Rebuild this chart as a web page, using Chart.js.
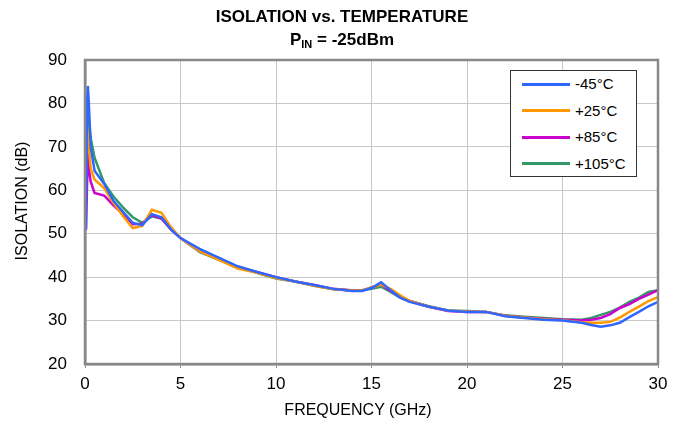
<!DOCTYPE html>
<html>
<head>
<meta charset="utf-8">
<script src="https://cdn.jsdelivr.net/npm/chart.js@4.4.1/dist/chart.umd.min.js"></script>
<style>
  body { margin: 0; background: #fff; font-family: "Liberation Sans", Arial, sans-serif; }
  #wrap { position: relative; width: 684px; height: 426px; }
  #titel { position: absolute; left: 0; top: 5px; width: 684px; text-align: center; font-weight: bold; font-size: 17px; line-height: 23px; color: #000; }
  #titel sub { font-size: 11px; vertical-align: -3px; line-height: 0; }
  #ejeX { position: absolute; left: 208px; top: 400px; width: 300px; text-align: center; font-size: 16px; line-height: 20px; color: #000; }
  #ejeY { position: absolute; left: -128px; top: 191px; width: 300px; text-align: center; font-size: 16px; line-height: 20px; color: #000; transform: rotate(-90deg); }
  #leyenda { position: absolute; left: 510px; top: 70px; width: 125px; height: 105px; border: 1px solid #333; background: #fff; }
  .item { position: absolute; left: 11px; height: 20px; font-size: 15px; line-height: 20px; color: #000; }
  .item span { display: inline-block; width: 48px; height: 3px; vertical-align: middle; margin-right: 5px; position: relative; top: -1px; }
</style>
</head>
<body>
<div id="wrap">
  <canvas id="myChart" width="684" height="426"></canvas>
  <div id="titel">ISOLATION vs. TEMPERATURE<br>P<sub>IN</sub> = -25dBm</div>
  <div id="ejeX">FREQUENCY (GHz)</div>
  <div id="ejeY">ISOLATION (dB)</div>
  <div id="leyenda"></div>
</div>
<script>
// frecuencias en GHz
const frecuencias = [0.05, 0.1, 0.15, 0.2, 0.3, 0.5, 1, 1.5, 2, 2.5, 3, 3.5, 4, 4.5, 5, 6, 7, 8, 9, 10, 11, 12, 13, 14, 14.5, 15, 15.5, 16, 16.5, 17, 18, 19, 20, 21, 22, 23, 24, 25, 26, 26.5, 27, 27.5, 28, 28.5, 29, 29.5, 30];

const temperaturas = ['-45°C', '+25°C', '+85°C', '+105°C'];
const colores = ['#2f66ff', '#ff9900', '#cc00cc', '#339966'];

const iso_m45 = [51, 79, 84, 80, 70, 64.5, 61.5, 57.5, 55, 52.5, 52, 54.5, 53.8, 51, 49, 46.5, 44.5, 42.5, 41.2, 40, 39, 38.2, 37.3, 36.8, 36.8, 37.5, 38.8, 37, 35.3, 34.3, 33.2, 32.3, 32, 32, 31, 30.6, 30.2, 30, 29.5, 29, 28.6, 28.9, 29.5, 30.8, 32, 33.3, 34.3];
const iso_25 = [66, 75, 73, 70, 65, 62.5, 60.5, 57, 54, 51.3, 51.8, 55.5, 54.8, 51.5, 49, 46, 44, 42, 41, 39.8, 39, 38, 37.2, 36.9, 37, 37.6, 38.3, 37.3, 35.8, 34.5, 33.2, 32.3, 32.1, 32, 31.1, 30.7, 30.3, 30.1, 29.6, 29.5, 29.5, 29.7, 30.7, 32, 33.2, 34.5, 35.4];
const iso_85 = [51, 60, 68.5, 65, 62, 59.4, 58.8, 56.5, 54.5, 52.2, 52.3, 54.3, 53.5, 51, 49, 46, 44.2, 42.3, 41.2, 40, 39, 38.2, 37.3, 36.9, 36.9, 37.6, 38.3, 36.8, 35.4, 34.5, 33.2, 32.2, 32, 32, 31.1, 30.7, 30.4, 30.2, 30, 30.2, 30.6, 31.5, 32.9, 33.8, 35, 36, 37];
const iso_105 = [60.7, 73, 75, 76, 72, 67.5, 61.7, 58.5, 56, 53.8, 52.5, 54, 53.5, 51, 49, 45.8, 44, 42.3, 41, 39.7, 39, 38, 37.2, 37, 37, 37.3, 37.8, 36.6, 35.3, 34.5, 33.3, 32.3, 32.2, 32, 31.2, 30.9, 30.6, 30.3, 30.2, 30.6, 31.3, 32, 33, 34.3, 35.3, 36.6, 37];

const series = [iso_m45, iso_25, iso_85, iso_105];

const datasets = series.map((valores, i) => {
  return {
    label: temperaturas[i],
    data: valores.map((v, j) => ({ x: frecuencias[j], y: v })),
    borderColor: colores[i],
    borderWidth: 2.5,
    pointRadius: 0,
    fill: false,
    tension: 0
  }
});

// leyenda en html
let leyenda = document.getElementById('leyenda');
temperaturas.forEach((t, i) => {
  let d = document.createElement('div');
  d.className = 'item';
  d.style.top = (3 + i * 26.5) + 'px';
  d.innerHTML = '<span style="background:' + colores[i] + '"></span>' + t;
  leyenda.appendChild(d);
});

const marco = {
  id: 'marco',
  afterDraw(chart) {
    const a = chart.chartArea;
    const ctx = chart.ctx;
    ctx.save();
    ctx.strokeStyle = '#888';
    ctx.lineWidth = 2.5;
    ctx.strokeRect(a.left, a.top, a.right - a.left, a.bottom - a.top);
    ctx.restore();
  }
};

const fuenteTicks = { family: '"Liberation Sans", Arial, sans-serif', size: 17 };

new Chart(document.getElementById('myChart'), {
  type: 'line',
  data: { datasets: datasets },
  options: {
    responsive: false,
    animation: false,
    layout: { padding: { left: 0, right: 26, top: 60, bottom: 0 } },
    plugins: { legend: { display: false }, tooltip: { enabled: false }, title: { display: false } },
    scales: {
      x: {
        type: 'linear',
        min: 0, max: 30,
        ticks: { stepSize: 5, color: '#000', font: fuenteTicks, padding: 6, maxRotation: 0 },
        grid: { color: '#c8c8c8', lineWidth: 1, tickLength: 4, tickColor: '#888' },
        border: { color: '#888', width: 2.5 },
        afterFit: (scale) => { scale.height = 62; }
      },
      y: {
        min: 20, max: 90,
        ticks: { stepSize: 10, color: '#000', font: fuenteTicks, padding: 18 },
        grid: { color: '#c8c8c8', lineWidth: 1, drawTicks: false },
        border: { color: '#888', width: 2.5 },
        afterFit: (scale) => { scale.width = 85; }
      }
    }
  },
  plugins: [marco]
});
</script>
</body>
</html>
